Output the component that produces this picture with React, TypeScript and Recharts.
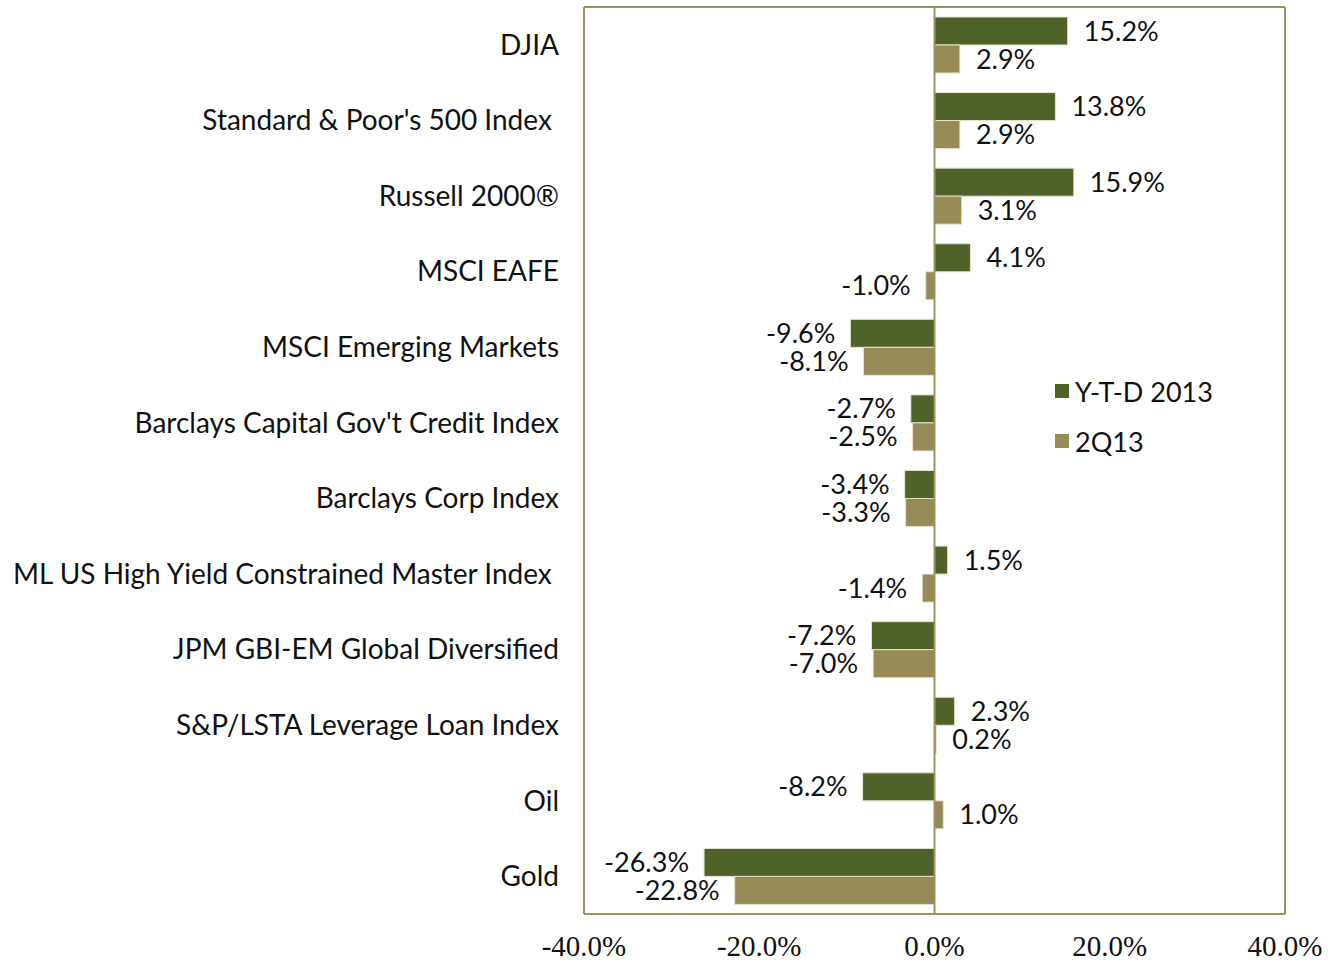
import { BarChart, Bar, XAxis, YAxis, ReferenceLine, LabelList, Legend } from 'recharts';

const categories = [
  'DJIA',
  'Standard & Poor\'s 500 Index\u00A0',
  'Russell 2000®',
  'MSCI EAFE',
  'MSCI Emerging Markets',
  'Barclays Capital Gov\'t Credit Index',
  'Barclays Corp Index',
  'ML US High Yield Constrained Master Index\u00A0',
  'JPM GBI-EM Global Diversified',
  'S&P/LSTA Leverage Loan Index',
  'Oil',
  'Gold',
];
const ytd2013 = [15.2, 13.8, 15.9, 4.1, -9.6, -2.7, -3.4, 1.5, -7.2, 2.3, -8.2, -26.3];
const q2_2013 = [2.9, 2.9, 3.1, -1.0, -8.1, -2.5, -3.3, -1.4, -7.0, 0.2, 1.0, -22.8];
const xTicks = [-40, -20, 0, 20, 40];

const GREEN = '#4f622a';
const TAN = '#968a55';
const BORDER = '#9c9262';
const SANS = 'Lato, "Open Sans", sans-serif';

const chartData = categories.map((name, i) => ({
  name,
  ytd: ytd2013[i],
  q2: q2_2013[i],
}));

function ValueLabel(props: any) {
  const { x, y, width, height, value } = props;
  const left = Math.min(x, x + width);
  const right = Math.max(x, x + width);
  const cy = y + height / 2;
  const neg = value < 0;
  return (
    <text
      x={neg ? left - 15 : right + 16}
      y={cy - 1}
      textAnchor={neg ? 'end' : 'start'}
      dominantBaseline="central"
      fontFamily={SANS}
      fontSize={27}
      fill="#111"
    >
      {value.toFixed(1)}%
    </text>
  );
}

function LegendBox() {
  const items = [
    { label: 'Y-T-D 2013', color: GREEN },
    { label: '2Q13', color: TAN },
  ];
  return (
    <div style={{ fontFamily: SANS, fontSize: 27, color: '#111' }}>
      {items.map((it) => (
        <div key={it.label} style={{ display: 'flex', alignItems: 'center', height: 50 }}>
          <span style={{ width: 14, height: 14, background: it.color, marginRight: 6, display: 'inline-block' }} />
          {it.label}
        </div>
      ))}
    </div>
  );
}

export default function App() {
  return (
    <div style={{ position: 'absolute', left: 0, top: 0, background: '#fff' }}>
      <BarChart
        width={1338}
        height={961}
        data={chartData}
        layout="vertical"
        margin={{ top: 6, right: 52, bottom: 0, left: 0 }}
        barGap={0}
        barSize={28}
      >
        <XAxis
          type="number"
          domain={[-40, 40]}
          ticks={xTicks}
          tickFormatter={(v: number) => `${v.toFixed(1)}%`}
          tickLine={false}
          axisLine={{ stroke: BORDER, strokeWidth: 2 }}
          height={47}
          tickMargin={15}
          tick={{ fontFamily: '"Liberation Serif", serif', fontSize: 29, fill: '#111' }}
        />
        <XAxis
          xAxisId="top"
          orientation="top"
          type="number"
          domain={[-40, 40]}
          tick={false}
          tickLine={false}
          height={1}
          axisLine={{ stroke: BORDER, strokeWidth: 2 }}
        />
        <YAxis
          type="category"
          dataKey="name"
          width={584}
          tickLine={false}
          axisLine={{ stroke: BORDER, strokeWidth: 2 }}
          tickMargin={19}
          interval={0}
          tick={{ fontFamily: SANS, fontSize: 28, fill: '#111' }}
        />
        <YAxis
          yAxisId="right"
          orientation="right"
          type="category"
          dataKey="name"
          width={1}
          tick={false}
          tickLine={false}
          axisLine={{ stroke: BORDER, strokeWidth: 2 }}
        />
        <Legend
          layout="vertical"
          align="center"
          verticalAlign="middle"
          content={<LegendBox />}
          wrapperStyle={{ position: 'absolute', left: 1055, top: 366, width: 200 }}
        />
        <Bar dataKey="ytd" name="Y-T-D 2013" fill={GREEN} stroke="#e6e2cf" strokeWidth={1} isAnimationActive={false}>
          <LabelList dataKey="ytd" content={<ValueLabel />} />
        </Bar>
        <Bar dataKey="q2" name="2Q13" fill={TAN} stroke="#e6e2cf" strokeWidth={1} isAnimationActive={false}>
          <LabelList dataKey="q2" content={<ValueLabel />} />
        </Bar>
        <ReferenceLine x={0} stroke={BORDER} strokeWidth={2} />
      </BarChart>
    </div>
  );
}
